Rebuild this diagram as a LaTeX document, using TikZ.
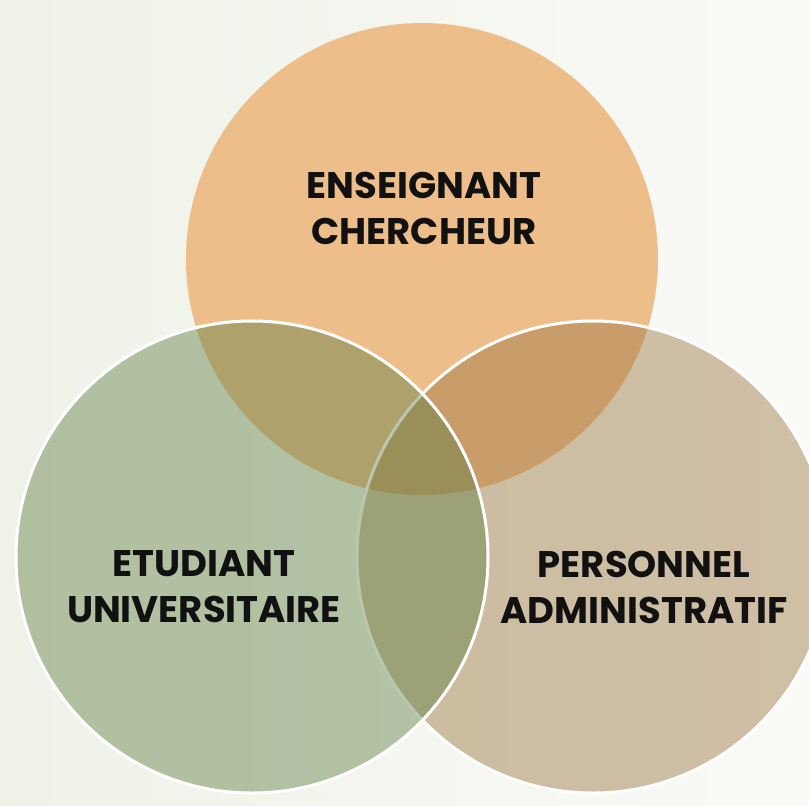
\documentclass[tikz,border=0pt]{standalone}
\usepackage{fontspec}
\setmainfont{Poppins}
\usepackage{tikz}

\definecolor{bgleft}{RGB}{238,242,231}
\definecolor{bgright}{RGB}{250,250,247}
\definecolor{ensorange}{RGB}{237,189,138}
\definecolor{etugreen}{RGB}{98,127,69}
\definecolor{perstan}{RGB}{156,120,67}
\definecolor{vtext}{RGB}{17,17,17}

\begin{document}
\begin{tikzpicture}[x=1pt,y=-1pt,
	venn/.style={circle,minimum size=472pt,inner sep=0pt},
	lbl/.style={align=center,text=vtext,font=\fontsize{37}{46}\selectfont\bfseries}]
	\useasboundingbox(0,0)rectangle(809,806);
	\clip(0,0)rectangle(809,806);
	\shade[left color=bgleft,right color=bgright](0,0)rectangle(809,806);
	% the three sets
	\node[venn,fill=ensorange](ens)at(422,259){};
	\node[venn,fill=perstan,fill opacity=.45,draw=white,line width=3pt](pers)at(593,557){};
	\node[venn,fill=etugreen,fill opacity=.44,draw=white,line width=3pt](etu)at(252,557){};
	% labels
	\node[lbl](tens)at(424,208){ENSEIGNANT\\CHERCHEUR};
	\node[lbl](tetu)at(204,587){ETUDIANT\\UNIVERSITAIRE};
	\node[lbl](tpers)at(644,587){PERSONNEL\\ADMINISTRATIF};
\end{tikzpicture}
\end{document}
